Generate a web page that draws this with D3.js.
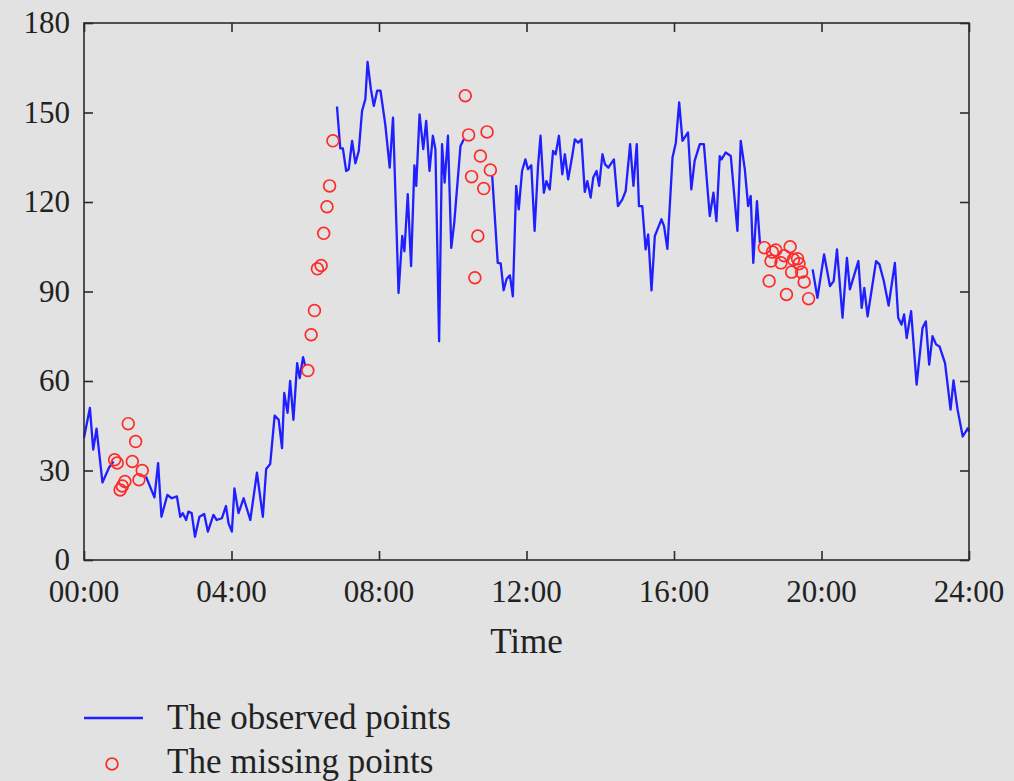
<!DOCTYPE html>
<html>
<head>
<meta charset="utf-8">
<script src="https://cdn.jsdelivr.net/npm/d3@7"></script>
<style>
  html, body { margin: 0; padding: 0; background: #e1e2e1; }
  svg { display: block; }
  text { font-family: "Liberation Serif", "DejaVu Serif", serif; fill: #222; }
</style>
</head>
<body>
<svg></svg>
<script>
// observed series: hours, value (null = break in the line)
var obsTime = [
  0.00, 0.16, 0.25, 0.34, 0.50, 0.68, 0.80, null,
  1.68, 1.91, 2.01, 2.10, 2.26, 2.38, 2.52, 2.61, 2.68, 2.77, 2.83, 2.92, 3.01, 3.13,
  3.26, 3.36, 3.51, 3.60, 3.74, 3.85, 3.92, 4.01, 4.08, 4.19, 4.33, 4.51, 4.69, 4.85,
  4.94, 5.05, 5.17, 5.28, 5.37, 5.43, 5.52, 5.59, 5.68, 5.78, 5.85, 5.94, 6.00, null,
  6.86, 6.95, 7.02, 7.11, 7.18, 7.27, 7.36, 7.45, 7.54, 7.63, 7.69, 7.78, 7.86, 7.95,
  8.04, 8.17, 8.29, 8.38, 8.53, 8.63, 8.69, 8.78, 8.87, 8.96, 9.01, 9.10, 9.20, 9.28,
  9.37, 9.46, 9.53, 9.63, 9.71, 9.78, 9.87, 9.96, 10.04, 10.21, 10.30, null,
  11.07, 11.22, 11.30, 11.38, 11.46, 11.55, 11.63, 11.72, 11.79, 11.88, 11.97, 12.04,
  12.13, 12.22, 12.31, 12.38, 12.47, 12.54, 12.63, 12.72, 12.79, 12.88, 12.97, 13.04,
  13.13, 13.24, 13.31, 13.40, 13.49, 13.58, 13.65, 13.74, 13.81, 13.90, 13.97, 14.06,
  14.13, 14.22, 14.37, 14.48, 14.60, 14.69, 14.81, 14.90, 14.99, 15.05, 15.14, 15.23,
  15.30, 15.39, 15.48, 15.66, 15.73, 15.82, 15.96, 16.05, 16.14, 16.23, 16.38, 16.47,
  16.56, 16.70, 16.81, 16.97, 17.07, 17.15, 17.24, 17.29, 17.40, 17.54, 17.72, 17.81,
  17.92, 18.01, 18.08, 18.15, 18.25, 18.33, null,
  19.76, 19.89, 20.07, 20.23, 20.33, 20.42, 20.57, 20.69, 20.77, 21.00, 21.09, 21.16,
  21.25, 21.48, 21.57, 21.69, 21.82, 21.99, 22.08, 22.17, 22.24, 22.31, 22.43, 22.58,
  22.74, 22.83, 22.92, 23.01, 23.11, 23.20, 23.35, 23.50, 23.58, 23.69, 23.83, 23.97, 24.00
];
var obsValue = [
  41, 51, 37, 44, 26, 31, 33, null,
  28, 21, 32.5, 14.5, 21.8, 20.7, 21.3, 14.5, 15.7, 13.4, 16.2, 15.7, 7.8, 14.5,
  15.4, 9.5, 15.1, 13.4, 14, 18.1, 12.3, 9.5, 24, 15.7, 20.7, 13.4, 29.3, 14.5,
  30.5, 32.2, 48.4, 47, 37.5, 56, 49.3, 60, 47, 66, 61, 68, 65, null,
  152, 138, 138, 130.4, 131, 140.5, 133, 137, 150.5, 154.5, 167, 157.8, 152.2, 157.3,
  157.3, 146, 131.5, 148.3, 89.5, 108.6, 103.5, 122.6, 98.5, 132.3, 125.4, 149.4, 137.7, 147.2,
  130.4, 142.2, 137.7, 73.3, 139.4, 126.5, 142.2, 104.6, 113, 138.8, 141, null,
  128.7, 99.6, 99.4, 90.4, 94.2, 95.4, 88.4, 125.4, 117.5, 130.4, 134.3, 131,
  132.3, 110.3, 131.5, 142.2, 123.1, 127, 124.2, 137.1, 136, 142.2, 129.3, 136,
  127.6, 135.4, 141, 139.9, 141, 123.4, 127, 121.5, 128.2, 130.4, 125.4, 136,
  132.6, 131.5, 134.3, 118.6, 120.9, 123.7, 139.4, 125.4, 139.4, 118.6, 118.6, 104.1,
  109.1, 90.4, 108.6, 114.2, 111.9, 104.3, 134.9, 139.9, 153.4, 140.5, 143.3, 124.2,
  133.8, 139.4, 139.4, 115.3, 123.1, 113.6, 135.4, 134.3, 136.6, 135.4, 110.3, 140.5,
  131, 118.6, 122, 99.6, 120.3, 106.3, null,
  97.4, 87.9, 102.4, 91.8, 93.5, 104.1, 81.2, 101.3, 90.7, 100.2, 84.5, 91.2,
  81.7, 100.2, 99.1, 93.5, 85.3, 99.6, 81.2, 78.9, 82.3, 74.4, 83.4, 58.8,
  77.8, 80, 65.5, 75, 72.2, 71.6, 66, 50.4, 60.2, 50.4, 41.4, 44.2, 43
];

// missing (imputed) points
var missTime = [
  0.83, 0.90, 0.98, 1.04, 1.11, 1.20, 1.31, 1.40, 1.49, 1.58,
  6.07, 6.16, 6.25, 6.33, 6.43, 6.50, 6.59, 6.66, 6.75,
  10.34, 10.43, 10.51, 10.60, 10.68, 10.75, 10.84, 10.93, 11.02,
  18.45, 18.58, 18.63, 18.67, 18.76, 18.90, 18.99, 19.05, 19.15, 19.19, 19.24,
  19.35, 19.39, 19.46, 19.53, 19.65
];
var missValue = [
  33.6, 32.5, 23.5, 24.8, 26.3, 45.7, 33, 39.7, 26.9, 30,
  63.5, 75.5, 83.6, 97.6, 98.7, 109.5, 118.4, 125.4, 140.5,
  155.6, 142.5, 128.5, 94.6, 108.6, 135.4, 124.5, 143.5, 130.7,
  104.7, 93.5, 100.2, 103.2, 103.9, 99.6, 102, 89, 105, 96.5, 100.7,
  101, 99.3, 96.5, 93.2, 87.6
];

var xTicks = [0, 4, 8, 12, 16, 20, 24];
var xTickLabels = ["00:00", "04:00", "08:00", "12:00", "16:00", "20:00", "24:00"];
var yTicks = [0, 30, 60, 90, 120, 150, 180];
var legendLabels = ["The observed points", "The missing points"];

var width = 1014, height = 781;
var plotLeft = 84, plotRight = 969, plotTop = 23, plotBottom = 560;

var svg = d3.select("svg").attr("width", width).attr("height", height);

var x = d3.scaleLinear().domain([0, 24]).range([plotLeft, plotRight]);
var y = d3.scaleLinear().domain([0, 180]).range([plotBottom, plotTop]);

var obs = obsTime.map(function (t, i) { return { t: t, v: obsValue[i] }; });
var miss = missTime.map(function (t, i) { return { t: t, v: missValue[i] }; });

var line = d3.line()
  .defined(function (d) { return d.t !== null && d.v !== null; })
  .x(function (d) { return x(d.t); })
  .y(function (d) { return y(d.v); });

svg.append("path")
  .datum(obs)
  .attr("fill", "none")
  .attr("stroke", "#1f1fff")
  .attr("stroke-width", 2.3)
  .attr("stroke-linejoin", "round")
  .attr("d", line);

svg.append("g").selectAll("circle")
  .data(miss)
  .enter()
  .append("circle")
  .attr("cx", function (d) { return x(d.t); })
  .attr("cy", function (d) { return y(d.v); })
  .attr("r", 5.9)
  .attr("fill", "none")
  .attr("stroke", "#ff2a2a")
  .attr("stroke-width", 1.7);

// frame with inward ticks on all four sides
var frameColor = "#2b2b2b";
var tickLen = 9;

svg.append("g")
  .attr("transform", "translate(0," + plotBottom + ")")
  .call(d3.axisTop(x).tickValues(xTicks).tickSize(tickLen).tickFormat(""))
  .call(function (g) { g.select(".domain").remove(); });
svg.append("g")
  .attr("transform", "translate(0," + plotTop + ")")
  .call(d3.axisBottom(x).tickValues(xTicks).tickSize(tickLen).tickFormat(""))
  .call(function (g) { g.select(".domain").remove(); });
svg.append("g")
  .attr("transform", "translate(" + plotLeft + ",0)")
  .call(d3.axisRight(y).tickValues(yTicks).tickSize(tickLen).tickFormat(""))
  .call(function (g) { g.select(".domain").remove(); });
svg.append("g")
  .attr("transform", "translate(" + plotRight + ",0)")
  .call(d3.axisLeft(y).tickValues(yTicks).tickSize(tickLen).tickFormat(""))
  .call(function (g) { g.select(".domain").remove(); });

svg.selectAll(".tick line").attr("stroke", frameColor).attr("stroke-width", 1.6);

svg.append("rect")
  .attr("x", plotLeft).attr("y", plotTop)
  .attr("width", plotRight - plotLeft).attr("height", plotBottom - plotTop)
  .attr("fill", "none")
  .attr("stroke", frameColor)
  .attr("stroke-width", 1.6);

// tick labels
svg.append("g").selectAll("text")
  .data(yTicks)
  .enter()
  .append("text")
  .attr("x", plotLeft - 14)
  .attr("y", function (d) { return y(d) + 10; })
  .attr("text-anchor", "end")
  .style("font-size", "31px")
  .text(function (d) { return d; });

svg.append("g").selectAll("text")
  .data(xTicks)
  .enter()
  .append("text")
  .attr("x", function (d) { return x(d); })
  .attr("y", plotBottom + 42)
  .attr("text-anchor", "middle")
  .style("font-size", "31px")
  .text(function (d, i) { return xTickLabels[i]; });

svg.append("text")
  .attr("x", (plotLeft + plotRight) / 2)
  .attr("y", 653)
  .attr("text-anchor", "middle")
  .style("font-size", "35px")
  .text("Time");

// legend
svg.append("line")
  .attr("x1", 84).attr("x2", 143)
  .attr("y1", 718).attr("y2", 718)
  .attr("stroke", "#1f1fff")
  .attr("stroke-width", 2.3);
svg.append("circle")
  .attr("cx", 112).attr("cy", 764)
  .attr("r", 5.9)
  .attr("fill", "none")
  .attr("stroke", "#ff2a2a")
  .attr("stroke-width", 1.7);

svg.append("g").selectAll("text")
  .data(legendLabels)
  .enter()
  .append("text")
  .attr("x", 167)
  .attr("y", function (d, i) { return 729 + i * 44; })
  .style("font-size", "35px")
  .text(function (d) { return d; });
</script>
</body>
</html>
